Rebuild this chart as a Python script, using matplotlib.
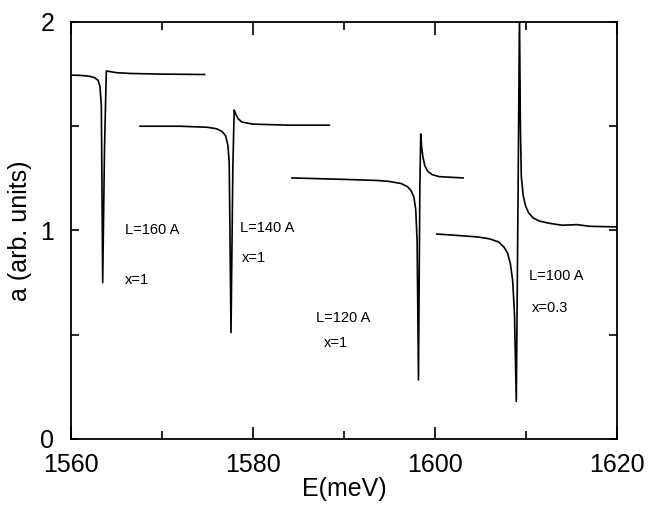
import numpy as np
import matplotlib.pyplot as plt
from matplotlib.ticker import MultipleLocator

plt.rcParams['font.family'] = ['Liberation Sans', 'DejaVu Sans']

# L=160 A, x=1
e_160 = [1560.0, 1561.0, 1562.0, 1562.6, 1563.0, 1563.2, 1563.35, 1563.5, 1563.7, 1563.9,
         1564.3, 1565.0, 1566.5, 1570.0, 1574.7]
a_160 = [1.745, 1.744, 1.740, 1.733, 1.72, 1.69, 1.60, 0.75, 1.40, 1.765,
         1.762, 1.757, 1.753, 1.750, 1.748]

# L=140 A, x=1
e_140 = [1567.6, 1572.0, 1575.0, 1576.0, 1576.6, 1577.0, 1577.25, 1577.4, 1577.6, 1577.8,
         1577.95, 1578.1, 1578.4, 1578.8, 1580.0, 1584.0, 1588.4]
a_140 = [1.50, 1.50, 1.495, 1.488, 1.475, 1.455, 1.41, 1.33, 0.51, 1.30,
         1.578, 1.56, 1.535, 1.52, 1.51, 1.505, 1.505]

# L=120 A, x=1
e_120 = [1584.3, 1590.0, 1593.6, 1595.0, 1596.3, 1597.0, 1597.4, 1597.7, 1597.9, 1598.05,
         1598.2, 1598.35, 1598.45, 1598.55, 1598.7, 1598.9, 1599.2, 1599.7, 1600.5, 1603.1]
a_120 = [1.252, 1.245, 1.24, 1.235, 1.225, 1.21, 1.19, 1.16, 1.10, 0.95,
         0.283, 1.20, 1.463, 1.40, 1.35, 1.31, 1.285, 1.268, 1.258, 1.252]

# L=100 A, x=0.3
e_100 = [1600.2, 1602.5, 1604.7, 1606.0, 1607.0, 1607.6, 1608.0, 1608.3, 1608.55, 1608.75,
         1608.95, 1609.15, 1609.3, 1609.4, 1609.5, 1609.7, 1609.95, 1610.3, 1610.8, 1611.5,
         1612.5, 1614.0, 1615.6, 1617.0, 1620.0]
a_100 = [0.983, 0.976, 0.969, 0.96, 0.945, 0.92, 0.89, 0.84, 0.76, 0.60,
         0.18, 1.20, 2.05, 1.50, 1.26, 1.17, 1.12, 1.085, 1.06, 1.045,
         1.035, 1.025, 1.028, 1.02, 1.017]

fig = plt.figure(figsize=(6.5, 5.11), dpi=100)
ax = fig.add_axes([0.109, 0.141, 0.84, 0.816])

for e, a in [(e_160, a_160), (e_140, a_140), (e_120, a_120), (e_100, a_100)]:
    ax.plot(e, a, color='black', lw=1.2)

ax.set_xlim(1560, 1620)
ax.set_ylim(0, 2)
ax.set_xticks([1560, 1580, 1600, 1620])
ax.set_yticks([0, 1, 2])
ax.xaxis.set_minor_locator(MultipleLocator(10))
ax.yaxis.set_minor_locator(MultipleLocator(0.5))
ax.tick_params(which='both', direction='in', top=True, right=True, labelsize=18, width=1.2)
ax.tick_params(axis='x', which='major', length=9, pad=10)
ax.tick_params(axis='x', which='minor', length=6)
ax.tick_params(axis='y', which='major', length=6, pad=12)
ax.tick_params(axis='y', which='minor', length=6)
for s in ax.spines.values():
    s.set_linewidth(1.3)

ax.set_xlabel('E(meV)', fontsize=18, labelpad=0)
ax.set_ylabel('a (arb. units)', fontsize=18, labelpad=6)

ax.text(1565.9, 1.0, 'L=160 A', fontsize=10.5, va='center')
ax.text(1565.9, 0.76, 'x=1', fontsize=10.5, va='center')
ax.text(1578.6, 1.01, 'L=140 A', fontsize=10.5, va='center')
ax.text(1578.8, 0.87, 'x=1', fontsize=10.5, va='center')
ax.text(1586.9, 0.58, 'L=120 A', fontsize=10.5, va='center')
ax.text(1587.8, 0.46, 'x=1', fontsize=10.5, va='center')
ax.text(1610.3, 0.78, 'L=100 A', fontsize=10.5, va='center')
ax.text(1610.7, 0.63, 'x=0.3', fontsize=10.5, va='center')

fig.savefig('out.png', dpi=100)
